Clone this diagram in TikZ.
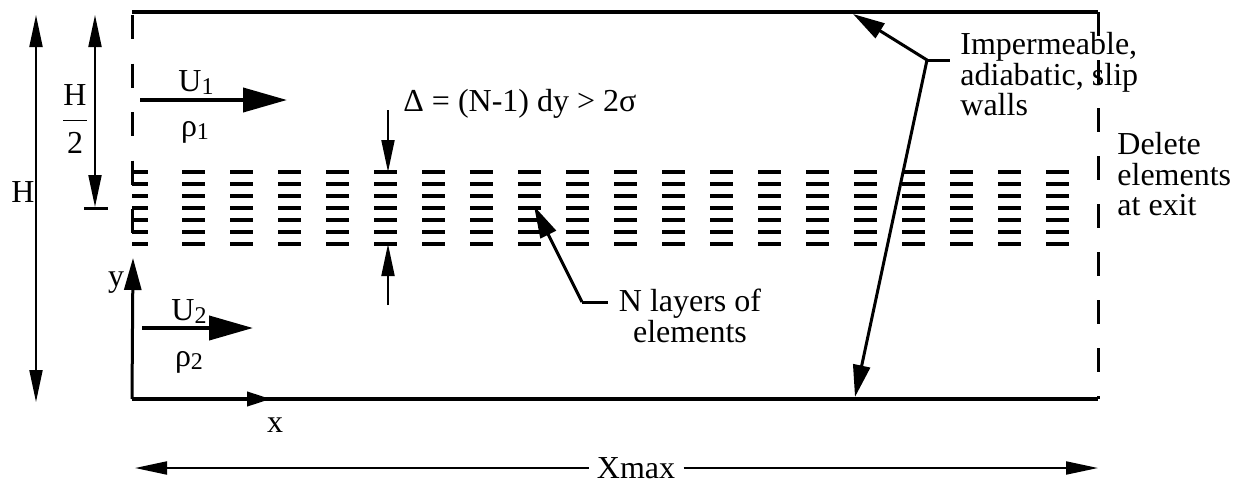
\documentclass[tikz,border=0pt]{standalone}
\usepackage{fontspec}
\setmainfont{Liberation Serif}
\usetikzlibrary{arrows.meta}
\newcommand{\mysub}[1]{\raisebox{-0.12em}{\fontsize{12}{12}\selectfont #1}}
\tikzset{
  wall/.style={line width=2pt},
  bound/.style={line width=1.5pt},
  elem/.style={line width=1.8pt},
  thinarr/.style={line width=1pt,-{Triangle[length=16pt,width=6.5pt]}},
  thinarrs/.style={line width=1pt,{Triangle[length=16pt,width=6.5pt]}-{Triangle[length=16pt,width=6.5pt]}},
  midarr/.style={line width=1.5pt,-{Triangle[length=16pt,width=8.5pt]}},
  bigarr/.style={line width=2pt,-{Triangle[length=22pt,width=12pt]}},
  lbl/.style={inner sep=0pt},
}
\begin{document}
\begin{tikzpicture}[x=0.5pt,y=-0.5pt,font=\fontsize{16}{15.3}\selectfont]
\useasboundingbox (0,0) rectangle (1242,487);
% channel corners
\coordinate (TL) at (132,12);
\coordinate (TR) at (1098,12);
\coordinate (BL) at (132,399);
\coordinate (BR) at (1098,399);
% walls
\draw[wall] (TL) -- (TR);
\draw[wall] (BL) -- (BR);
% inlet and exit boundaries
\coordinate (inA) at (132,15);
\coordinate (inB) at (132,256);
\draw[bound,dash pattern=on 12pt off 12.25pt] (inA) -- (inB);
\draw[bound,dash pattern=on 12pt off 12pt] (TR) -- (BR);
% layers of elements
\foreach \j in {0,...,6}{
  \draw[elem] (132,172+12*\j) -- ++(16,0);
  \foreach \k in {0,...,18}{
    \draw[elem] (182+48*\k,172+12*\j) -- ++(23,0);
  }
}
% H arrows
\coordinate (Htop) at (36,15);
\coordinate (Hbot) at (36,402);
\draw[thinarrs] (Htop) -- (Hbot);
\node[lbl,anchor=base] (Hlab) at (23,202) {H};
\coordinate (hHtop) at (95,15);
\coordinate (hHbot) at (95,207);
\draw[thinarrs] (hHtop) -- (hHbot);
\coordinate (tickL) at (84,208);
\coordinate (tickR) at (108,208);
\draw[line width=1.5pt] (tickL) -- (tickR);
\node[lbl] (hHlab) at (75,119) {$\displaystyle\frac{\mbox{H}}{\mbox{2}}$};
% velocity arrows
\coordinate (u1s) at (140,100);
\coordinate (u1e) at (287,100);
\draw[bigarr] (u1s) -- (u1e);
\node[lbl,anchor=base] (U1) at (196,91) {U\mysub{1}};
\node[lbl,anchor=base] (r1) at (195,136) {ρ\mysub{1}};
\coordinate (u2s) at (142,328);
\coordinate (u2e) at (253,328);
\draw[bigarr] (u2s) -- (u2e);
\node[lbl,anchor=base] (U2) at (189,320) {U\mysub{2}};
\node[lbl,anchor=base] (r2) at (189,366) {ρ\mysub{2}};
% axes
\coordinate (ytip) at (133,258);
\draw[midarr] (BL) -- (ytip);
\node[lbl,anchor=base] (ylab) at (116,286) {y};
\coordinate (xtip) at (271,399);
\draw[line width=2pt,-{Triangle[length=12pt,width=7pt]}] (BL) -- (xtip);
\node[lbl,anchor=base] (xlab) at (275,432) {x};
% Delta arrows
\coordinate (dtop) at (388,172);
\coordinate (dbot) at (388,244);
\coordinate (dtopS) at (388,110);
\coordinate (dbotS) at (388,305);
\draw[thinarr] (dtopS) -- (dtop);
\draw[thinarr] (dbotS) -- (dbot);
\node[lbl,anchor=base west] (dlab) at (403,111) {Δ = (N-1) dy > 2σ};
% N layers
\coordinate (ntip) at (534,206);
\coordinate (nk) at (582,302);
\coordinate (nend) at (608,302);
\draw[midarr] (nk) -- (ntip);
\draw[line width=1.5pt] (nk) -- (nend);
\node[lbl,anchor=north,align=center] (nlab) at (690,289) {N layers of\\elements};
% walls label
\coordinate (wj) at (927,60);
\coordinate (wj2) at (950,60);
\coordinate (wt) at (853,14);
\coordinate (wb) at (855,397);
\draw[line width=1.5pt] (wj) -- (wj2);
\draw[midarr] (wj) -- (wt);
\draw[midarr] (wj) -- (wb);
\node[lbl,anchor=north west,align=left] (wlab) at (960,32) {Impermeable,\\adiabatic, slip\\walls};
\node[lbl,anchor=north west,align=left] (elab) at (1117,132) {Delete\\elements\\at exit};
% Xmax
\node[lbl] (xmax) at (636,468) {Xmax};
\coordinate (xl) at (135,468);
\coordinate (xr) at (1098,468);
\draw[thinarr] ([xshift=-4pt]xmax.west) -- (xl);
\draw[thinarr] ([xshift=4pt]xmax.east) -- (xr);
\end{tikzpicture}
\end{document}
